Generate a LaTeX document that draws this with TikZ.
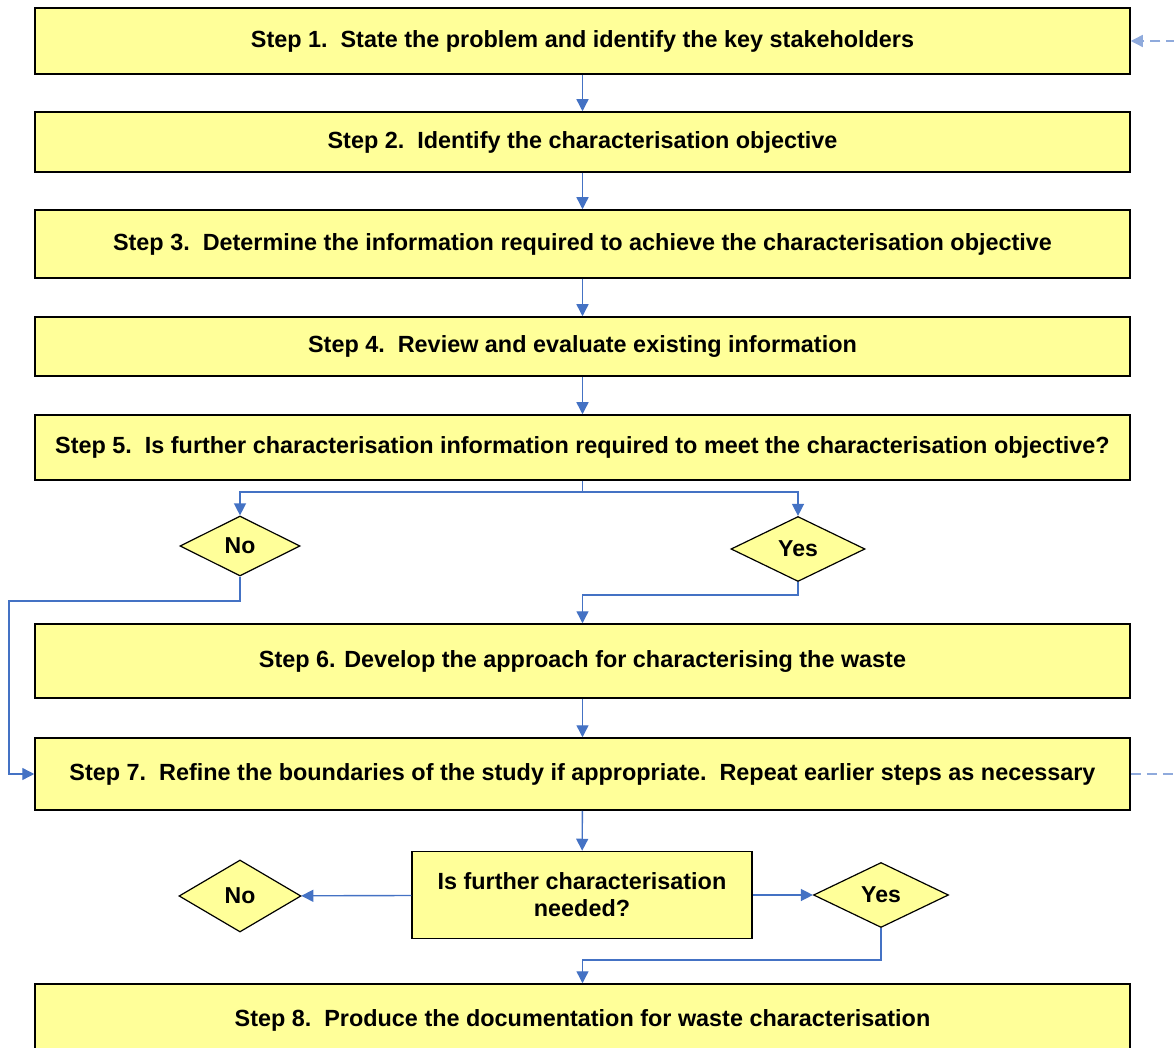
\documentclass[tikz,border=0pt]{standalone}
\usepackage{fontspec}
\setmainfont{Liberation Sans}
\usepackage{tikz}
\usetikzlibrary{arrows.meta}
\usetikzlibrary{shapes.geometric}
\definecolor{boxfill}{RGB}{255,255,153}
\definecolor{linkblue}{RGB}{68,114,196}
\definecolor{fbblue}{RGB}{143,170,220}
\tikzset{stepbox/.style={draw=black,line width=0.75pt,fill=boxfill,minimum width=547.5pt,inner sep=0pt,font=\fontsize{11.7}{13.5}\selectfont\bfseries}}
\tikzset{dec/.style={diamond,draw=black,line width=0.6pt,fill=boxfill,inner sep=0pt,font=\fontsize{11.5}{13}\selectfont\bfseries}}
\tikzset{ln/.style={draw=linkblue,line width=0.7pt,-{Triangle[length=6pt,width=6pt]}}}
\tikzset{fb/.style={draw=fbblue,line width=0.7pt,dash pattern=on 5pt off 3pt}}

\begin{document}
\begin{tikzpicture}[x=0.5pt,y=-0.5pt]
        \useasboundingbox (0,0) rectangle (1174,1048);
        % steps
        \node[stepbox,minimum height=33pt] (s1) at (582.5,41) {Step 1.\ \ State the problem and identify the key stakeholders};
        \node[stepbox,minimum height=30pt] (s2) at (582.5,142) {Step 2.\ \ Identify the characterisation objective};
        \node[stepbox,minimum height=34pt] (s3) at (582.5,244) {Step 3.\ \ Determine the information required to achieve the characterisation objective};
        \node[stepbox,minimum height=29.5pt] (s4) at (582.5,346.5) {Step 4.\ \ Review and evaluate existing information};
        \node[stepbox,minimum height=32.5pt] (s5) at (582.5,447.5) {Step 5.\ \ Is further characterisation information required to meet the characterisation objective?};
        \node[stepbox,minimum height=37pt] (s6) at (582.5,661) {Step 6. Develop the approach for characterising the waste};
        \node[stepbox,minimum height=36pt] (s7) at (582.5,774) {Step 7.\ \ Refine the boundaries of the study if appropriate.\ \ Repeat earlier steps as necessary};
        \node[stepbox,minimum height=36pt] (s8) at (582.5,1020) {Step 8.\ \ Produce the documentation for waste characterisation};
        % decisions
        \node[dec,minimum width=60pt,minimum height=30pt] (no1) at (240,546) {No};
        \node[dec,minimum width=67pt,minimum height=32.5pt] (yes1) at (798,549) {Yes};
        \node[stepbox,minimum width=170pt,minimum height=43.5pt,align=center] (q) at (582,895) {Is further characterisation\\needed?};
        \node[dec,minimum width=61pt,minimum height=36pt] (no2) at (240,896) {No};
        \node[dec,minimum width=67.5pt,minimum height=32.5pt] (yes2) at (881,895) {Yes};
        \coordinate (j5) at (582.5,492);
        \coordinate (n1b) at (9,601);
        \coordinate (y1b) at (582.5,595);
        \coordinate (y2b) at (582.5,960);
        \coordinate (fb7) at (1195,774);
        \coordinate (fb1) at (1195,41);
        % links
        \draw[ln] (s1) -- (s2);
        \draw[ln] (s2) -- (s3);
        \draw[ln] (s3) -- (s4);
        \draw[ln] (s4) -- (s5);
        \draw[ln,-] (s5) -- (j5);
        \draw[ln] (j5) -| (no1);
        \draw[ln] (j5) -| (yes1);
        \draw[ln] (no1) |- (n1b) |- (s7);
        \draw[ln] (yes1) |- (y1b) -- (s6);
        \draw[ln] (s6) -- (s7);
        \draw[ln] (s7) -- (q);
        \draw[ln] (q) -- (no2);
        \draw[ln] (q) -- (yes2);
        \draw[ln] (yes2) |- (y2b) -- (s8);
        % feedback
        \draw[fb,-{Triangle[length=6pt,width=6pt]}] (s7) -- (fb7) -- (fb1) -- (s1);
      \end{tikzpicture}
\end{document}
